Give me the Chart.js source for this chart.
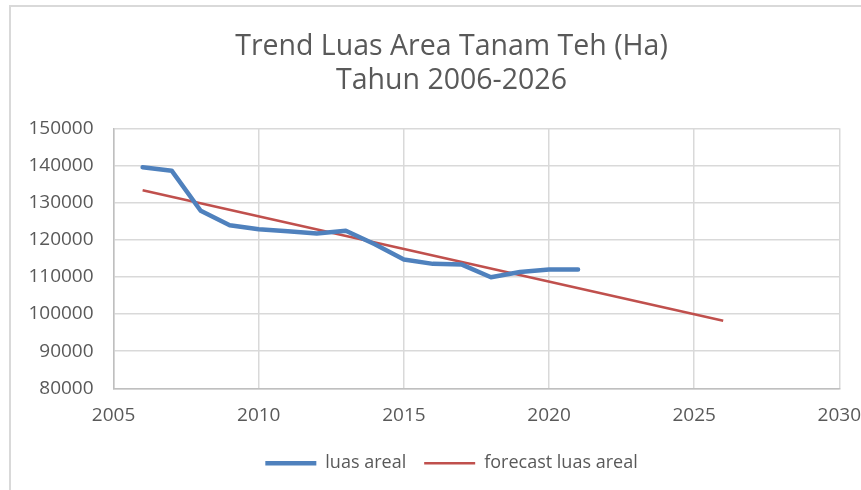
<!DOCTYPE html>
<html>
<head>
<meta charset="utf-8">
<script src="https://cdn.jsdelivr.net/npm/chart.js@4.4.1/dist/chart.umd.min.js"></script>
<style>
  body { margin: 0; overflow: hidden; background: #fff; }
  .frame { position: absolute; left: 9px; top: 5px; width: 900px; height: 600px;
           border-left: 2px solid #d9d9d9; border-top: 2px solid #d9d9d9; }
  .wrap { position: absolute; left: 0; top: 0; width: 900px; height: 490px; }
</style>
</head>
<body>
<div class="frame"></div>
<div class="wrap"><canvas id="myChart"></canvas></div>
<script>
// data
const years = [2006, 2007, 2008, 2009, 2010, 2011, 2012, 2013, 2014, 2015, 2016, 2017, 2018, 2019, 2020, 2021];
const luasAreal = [139500, 138600, 127800, 123900, 122800, 122300, 121700, 122400, 118800, 114700, 113500, 113300, 109900, 111300, 112000, 112000];
const forecastYears = [2006, 2026];
const forecastLuas = [133300, 98200];

const titleLines = ['Trend Luas Area Tanam Teh (Ha)', 'Tahun 2006-2026'];
const seriesNames = ['luas areal', 'forecast luas areal'];

const textColor = '#595959'
const fontName = "'Open Sans', sans-serif"

function toPoints(xs, ys) {
  return xs.map((x, i) => ({x: x, y: ys[i]}))
}

new Chart('myChart', {
  type: 'line',
  data: {
    datasets: [{
      label: seriesNames[0],
      data: toPoints(years, luasAreal),
      borderColor: '#4f81bd',
      backgroundColor: '#4f81bd',
      borderWidth: 4.5,
      borderCapStyle: 'round',
      borderJoinStyle: 'round',
      pointRadius: 0,
      tension: 0
    }, {
      label: seriesNames[1],
      data: toPoints(forecastYears, forecastLuas),
      borderColor: '#c0504d',
      backgroundColor: '#c0504d',
      borderWidth: 2.5,
      pointRadius: 0,
      tension: 0
    }]
  },
  options: {
    responsive: true,
    maintainAspectRatio: false,
    animation: false,
    layout: {
      padding: {left: 10, right: 7, top: 0, bottom: 7.7}
    },
    plugins: {
      tooltip: {enabled: false},
      title: {
        display: true,
        text: titleLines,
        color: textColor,
        font: {family: fontName, size: 28.5, weight: 'normal', lineHeight: 34 / 28.5},
        padding: {top: 29.5, bottom: 30.8}
      },
      legend: {
        position: 'bottom',
        labels: {
          usePointStyle: true,
          pointStyle: 'line',
          pointStyleWidth: 51,
          padding: 18,
          color: textColor,
          font: {family: fontName, size: 18}
        }
      }
    },
    scales: {
      x: {
        type: 'linear',
        min: 2005,
        max: 2030,
        afterFit: function(scale) { scale.height = 48 },
        grid: {color: '#d9d9d9', lineWidth: 1.5, drawTicks: false},
        border: {color: '#bfbfbf', width: 1.5},
        ticks: {
          stepSize: 5,
          padding: 16,
          maxRotation: 0,
          color: textColor,
          font: {family: fontName, size: 19},
          callback: v => String(v)
        }
      },
      y: {
        min: 80000,
        max: 150000,
        afterFit: function(scale) { scale.width = 103.6 },
        grid: {color: '#d9d9d9', lineWidth: 1.5, drawTicks: false},
        border: {color: '#bfbfbf', width: 1.5},
        ticks: {
          stepSize: 10000,
          padding: 20,
          color: textColor,
          font: {family: fontName, size: 19},
          callback: v => String(v)
        }
      },
      // empty right box so the title and legend centre where the original has them
      spacer: {
        position: 'right',
        min: 0,
        max: 1,
        afterFit: function(scale) { scale.width = 53.7 },
        grid: {display: false},
        border: {display: false},
        ticks: {display: false}
      }
    }
  }
});
</script>
</body>
</html>
